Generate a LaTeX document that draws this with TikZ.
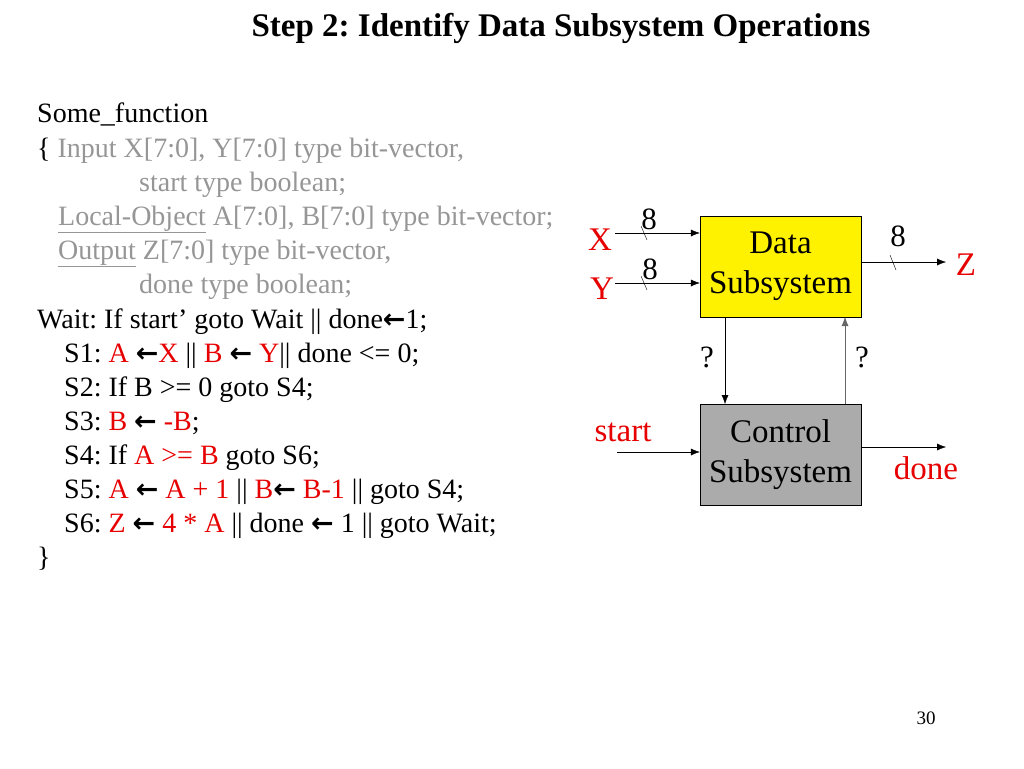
\documentclass[tikz,border=0pt]{standalone}
\usepackage{fontspec}
\setmainfont{Liberation Serif}
\newfontfamily\symfont{DejaVu Sans}
\usetikzlibrary{arrows.meta, positioning, calc}
\definecolor{codered}{RGB}{230,0,0}
\definecolor{codegray}{RGB}{150,150,150}
\newcommand{\la}{{\symfont\bfseries\fontsize{27}{27}\selectfont ←}}
\newcommand{\rd}[1]{\textcolor{codered}{#1}}
\frenchspacing

\begin{document}
\begin{tikzpicture}[x=1pt,y=-1pt,>={Latex[length=9pt,width=7pt]},
                    line/.style={anchor=base west,inner sep=0pt,font=\fontsize{28}{28}\selectfont},
                    block/.style={draw,minimum width=161pt,minimum height=101pt,align=center,
                                  font=\fontsize{33}{40}\selectfont,inner sep=0pt},
                    sig/.style={text=codered,font=\fontsize{33}{33}\selectfont,inner sep=0pt},
                    lbl/.style={font=\fontsize{31}{31}\selectfont,inner sep=0pt}]
  \useasboundingbox (0,0) rectangle (1024,768);
  \node[font=\bfseries\fontsize{33}{33}\selectfont] (title) at (561,28) {Step 2: Identify Data Subsystem Operations};

  % code listing
  \node[line] (l1) at (37,122) {Some\_function};
  \node[line] (l2) at (37,157) {\{ \textcolor{codegray}{Input X[7:0], Y[7:0] type bit-vector,}};
  \node[line,text=codegray] (l3) at (139,191) {start type boolean;};
  \node[line,text=codegray] (l4) at (58,225) {\underline{Local-Object} A[7:0], B[7:0] type bit-vector;};
  \node[line,text=codegray] (l5) at (58,259) {\underline{Output} Z[7:0] type bit-vector,};
  \node[line,text=codegray] (l6) at (139,293) {done type boolean;};
  \node[line] (l7) at (37,328) {Wait: If start’ goto Wait || done\la1;};
  \node[line] (l8) at (64,362) {S1: \rd{A} \la\rd{X} || \rd{B} \la{} \rd{Y}|| done <= 0;};
  \node[line] (l9) at (64,396) {S2: If B >= 0 goto S4;};
  \node[line] (l10) at (64,430) {S3: \rd{B} \la{} \rd{-B};};
  \node[line] (l11) at (64,464) {S4: If \rd{A >= B} goto S6;};
  \node[line] (l12) at (64,498) {S5: \rd{A} \la{} \rd{A + 1} || \rd{B}\la{} \rd{B-1} || goto S4;};
  \node[line] (l13) at (64,532) {S6: \rd{Z} \la{} \rd{4 * A} || done \la{} 1 || goto Wait;};
  \node[line] (l14) at (37,566) {\}};

  % block diagram
  \node[block,fill=yellow] (data) at (780.5,266.5) {Data\\Subsystem};
  \node[block,fill=black!33] (ctrl) at (780.5,454.5) {Control\\Subsystem};

  \coordinate (xin) at (615,233);
  \coordinate (yin) at (615,283);
  \coordinate (zout) at (946,262);
  \coordinate (sin) at (617,452);
  \coordinate (dout) at (946,447);

  \draw[->] (xin) -- (xin -| data.west);
  \draw[->] (yin) -- (yin -| data.west);
  \draw[->] (zout -| data.east) -- (zout);
  \draw[->] (sin) -- (sin -| ctrl.west);
  \draw[->] (dout -| ctrl.east) -- (dout);
  \draw[->] (725,317) -- (725,404);
  \draw[->,draw=black!60] (845,404) -- (845,317);

  \draw (641,226) -- (647,240);
  \draw (641,276) -- (647,290);
  \draw (890,255) -- (896,270);

  \node[sig] (xl) at (600,240) {X};
  \node[sig] (yl) at (602,289) {Y};
  \node[sig] (zl) at (966,265) {Z};
  \node[sig] (st) at (623,432) {start};
  \node[sig] (dn) at (926,468) {done};
  \node[lbl] (n1) at (649,219) {8};
  \node[lbl] (n2) at (650,269) {8};
  \node[lbl] (n3) at (898,236) {8};
  \node[lbl] (q1) at (707,357) {?};
  \node[lbl] (q2) at (862,357) {?};
  \node[font=\fontsize{19}{19}\selectfont] (page) at (926,718) {30};
\end{tikzpicture}
\end{document}
